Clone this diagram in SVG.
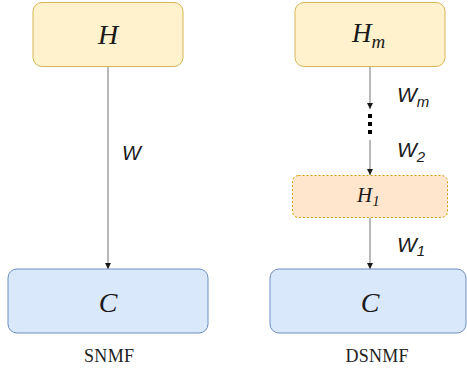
<svg xmlns="http://www.w3.org/2000/svg" width="467" height="372" viewBox="0 0 467 372">
<style>
.math{font-family:"Liberation Serif","DejaVu Serif",serif;font-style:italic;fill:#1a1a1a}
.wl{font-family:"Liberation Sans","DejaVu Sans",sans-serif;font-style:italic;fill:#1a1a1a}
.cap{font-family:"Liberation Serif","DejaVu Serif",serif;font-size:18px;fill:#222222;text-anchor:middle}
.yel{fill:#fff2cc;stroke:#d6b656;stroke-width:1}
.blu{fill:#dae8fc;stroke:#6c8ebf;stroke-width:1}
.org{fill:#ffe6cc;stroke:#d79b00;stroke-width:1;stroke-dasharray:2 2}
.ln{stroke:#8a8a8a;stroke-width:1.2;fill:none}
</style>
<defs>
<marker id="ah" viewBox="0 0 10 10" refX="10" refY="5" markerWidth="6" markerHeight="6" markerUnits="userSpaceOnUse" orient="auto">
<path d="M0,0 L10,5 L0,10 Z" fill="#1a1a1a"/>
</marker>
</defs>
<rect width="467" height="372" fill="#ffffff"/>
<g id="connectors">
<line class="ln" x1="108" y1="67" x2="108" y2="269" marker-end="url(#ah)"/>
<line class="ln" x1="370" y1="67" x2="370" y2="109" marker-end="url(#ah)"/>
<rect x="368" y="114" width="4" height="4" fill="#000"/>
<rect x="368" y="122" width="4" height="4" fill="#000"/>
<rect x="368" y="130" width="4" height="4" fill="#000"/>
<line class="ln" x1="370" y1="140" x2="370" y2="175" marker-end="url(#ah)"/>
<line class="ln" x1="370" y1="218" x2="370" y2="269" marker-end="url(#ah)"/>
<text class="wl" x="122" y="160" font-size="20">W</text>
<text class="wl" x="397" y="102" font-size="21">W<tspan font-size="15" dy="5">m</tspan></text>
<text class="wl" x="397" y="157" font-size="21">W<tspan font-size="15" dy="5">2</tspan></text>
<text class="wl" x="397" y="252" font-size="21">W<tspan font-size="15" dy="4">1</tspan></text>
</g>
<g id="H">
<rect class="yel" x="33" y="2.5" width="150" height="64" rx="9"/>
<text class="math" x="108" y="44" font-size="28" text-anchor="middle">H</text>
</g>
<g id="C_left">
<rect class="blu" x="8" y="269" width="200" height="64" rx="9"/>
<text class="math" x="108" y="312" font-size="28" text-anchor="middle">C</text>
</g>
<g id="Hm">
<rect class="yel" x="295" y="2.5" width="150" height="64" rx="9"/>
<text class="math" x="352" y="42" font-size="27">H<tspan font-size="19" dy="6">m</tspan></text>
</g>
<g id="H1">
<rect class="org" x="292.5" y="175.5" width="155" height="42" rx="6"/>
<text class="math" x="357" y="202" font-size="21">H<tspan font-size="15" dy="4">1</tspan></text>
</g>
<g id="C_right">
<rect class="blu" x="270" y="269" width="196" height="64" rx="9"/>
<text class="math" x="370" y="312" font-size="28" text-anchor="middle">C</text>
</g>
<g id="captions">
<text class="cap" x="109" y="362" textLength="50" lengthAdjust="spacing">SNMF</text>
<text class="cap" x="377" y="362" textLength="63" lengthAdjust="spacing">DSNMF</text>
</g>
</svg>
